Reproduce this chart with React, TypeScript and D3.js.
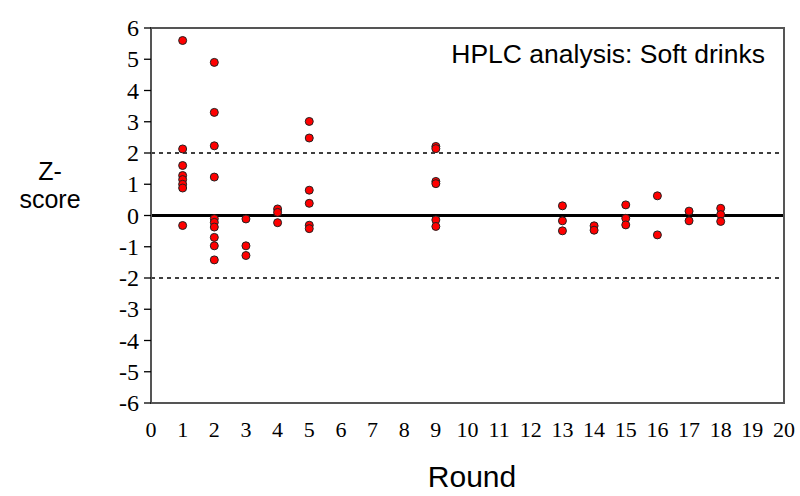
import React, { useEffect, useRef } from 'react';
import * as d3 from 'd3';

// z-scores per round
const rounds = [1, 2, 3, 4, 5, 9, 13, 14, 15, 16, 17, 18];
const zScores = [
    [5.6, 2.13, 1.6, 1.28, 1.15, 1.0, 0.88, -0.32],
    [4.9, 3.3, 2.23, 1.23, -0.1, -0.22, -0.37, -0.7, -0.97, -1.42],
    [-0.11, -0.97, -1.28],
    [0.21, 0.1, -0.23],
    [3.01, 2.48, 0.81, 0.39, -0.31, -0.42],
    [2.21, 2.14, 1.09, 1.02, -0.14, -0.35],
    [0.31, -0.17, -0.49],
    [-0.33, -0.47],
    [0.34, -0.09, -0.3],
    [0.63, -0.62],
    [0.14, -0.17],
    [0.23, 0.03, -0.19],
];
const xTicks = d3.range(0, 21);
const yTicks = d3.range(-6, 7);
const limits = [2, -2];

function App() {
    const ref = useRef<SVGSVGElement>(null);
    const width = 800;
    const height = 496;

    useEffect(() => {
        const svg = d3.select(ref.current);
        svg.selectAll("*").remove();

        const margin = { top: 28, right: 16, bottom: 93, left: 151 };
        const x = d3.scaleLinear().domain([0, 20]).range([margin.left, width - margin.right]);
        const y = d3.scaleLinear().domain([-6, 6]).range([height - margin.bottom, margin.top]);
        const axisColor = "#555";
        const serif = "'Liberation Serif', 'Times New Roman', serif";
        const sans = "'Liberation Sans', Arial, sans-serif";

        // dashed limit lines
        svg.selectAll(".limit")
            .data(limits)
            .enter().append("line")
            .attr("x1", x(0)).attr("x2", x(20))
            .attr("y1", d => y(d)).attr("y2", d => y(d))
            .attr("stroke", "#000")
            .attr("stroke-width", 1.3)
            .attr("stroke-dasharray", "4,4");

        // zero line
        svg.append("line")
            .attr("x1", x(0)).attr("x2", x(20))
            .attr("y1", y(0)).attr("y2", y(0))
            .attr("stroke", "#000")
            .attr("stroke-width", 2.8);

        // plot frame
        svg.append("rect")
            .attr("x", x(0)).attr("y", y(6))
            .attr("width", x(20) - x(0))
            .attr("height", y(-6) - y(6))
            .attr("fill", "none")
            .attr("stroke", axisColor)
            .attr("stroke-width", 2);

        // y ticks + labels
        svg.selectAll(".ytick")
            .data(yTicks)
            .enter().append("line")
            .attr("class", "ytick")
            .attr("x1", x(0) - 7).attr("x2", x(0))
            .attr("y1", d => y(d)).attr("y2", d => y(d))
            .attr("stroke", "#000")
            .attr("stroke-width", 1.3);

        svg.selectAll(".ylab")
            .data(yTicks)
            .enter().append("text")
            .attr("class", "ylab")
            .attr("x", x(0) - 12)
            .attr("y", d => y(d))
            .attr("dy", "0.34em")
            .attr("text-anchor", "end")
            .attr("font-family", serif)
            .attr("font-size", 24)
            .attr("fill", "#000")
            .text(d => String(d));

        // x labels
        svg.selectAll(".xlab")
            .data(xTicks)
            .enter().append("text")
            .attr("class", "xlab")
            .attr("x", d => x(d))
            .attr("y", y(-6) + 34)
            .attr("text-anchor", "middle")
            .attr("font-family", serif)
            .attr("font-size", 22)
            .attr("fill", "#000")
            .text(d => String(d));

        // points
        const points = rounds.flatMap((r, i) => zScores[i].map(z => ({ r, z })));
        svg.selectAll(".pt")
            .data(points)
            .enter().append("circle")
            .attr("class", "pt")
            .attr("cx", d => x(d.r))
            .attr("cy", d => y(d.z))
            .attr("r", 4)
            .attr("fill", "#ff0000")
            .attr("stroke", "#222")
            .attr("stroke-width", 1);

        svg.append("text")
            .attr("x", 765).attr("y", 63)
            .attr("text-anchor", "end")
            .attr("font-family", sans)
            .attr("font-size", 26.5)
            .text("HPLC analysis: Soft drinks");

        const yLabel = svg.append("text")
            .attr("text-anchor", "middle")
            .attr("font-family", sans)
            .attr("font-size", 25);
        yLabel.append("tspan").attr("x", 50).attr("y", 180).text("Z-");
        yLabel.append("tspan").attr("x", 50).attr("y", 208).text("score");

        svg.append("text")
            .attr("x", 472).attr("y", 487)
            .attr("text-anchor", "middle")
            .attr("font-family", sans)
            .attr("font-size", 30)
            .text("Round");
    }, []);

    return <svg ref={ref} width={width} height={height} style={{ display: "block", position: "absolute", left: 0, top: 0 }}></svg>;
}

export default App;
